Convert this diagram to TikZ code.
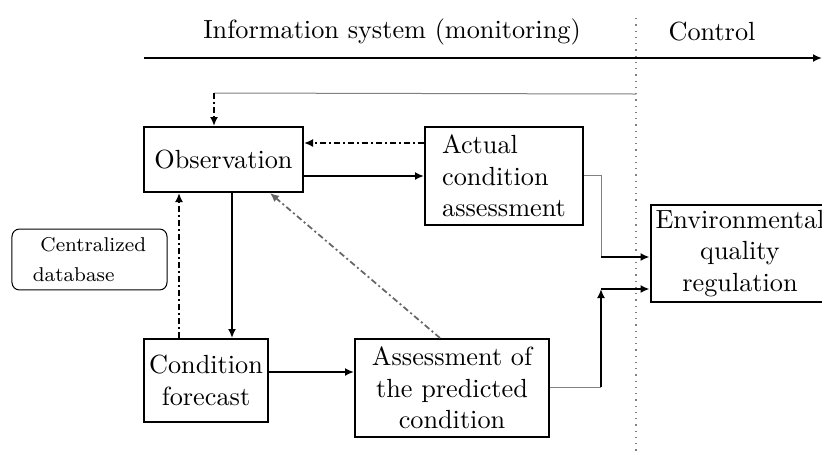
\documentclass[tikz,border=0pt]{standalone}
\usetikzlibrary{arrows.meta,calc}
\begin{document}
\begin{tikzpicture}[x=0.4pt,y=-0.4pt,
    box/.style={draw,line width=0.8pt,inner sep=2pt,font=\fontsize{10.5}{12.6}\selectfont},
    arr/.style={line width=0.7pt,-{Latex[length=3.6pt,width=3.2pt]}},
    darr/.style={arr,dash pattern=on 2.4pt off 1.2pt on 0.8pt off 1.2pt},
    wire/.style={draw=gray,line width=0.4pt}]
\useasboundingbox (0,0) rectangle (822,455);

% headings and time axis
\node[font=\fontsize{10.5}{12.6}\selectfont] (info) at (392,32) {Information system (monitoring)};
\node[font=\fontsize{10.5}{12.6}\selectfont] (ctrl) at (712,32) {Control};
\draw[line width=1pt,-{Latex[length=3.6pt,width=3.2pt]}] (144,58) -- (822,58);
\draw[gray,line width=0.5pt,dotted] (636,18) -- (636,455);

% boxes
\node[box,minimum width=159*0.4pt,minimum height=65*0.4pt] (obs) at (223.5,159.5) {Observation};
\node[box,minimum width=158*0.4pt,minimum height=98*0.4pt,align=left,text depth=-3pt] (act) at (504,176) {Actual\\condition\\assessment};
\node[box,minimum width=124*0.4pt,minimum height=83*0.4pt,align=center] (cond) at (206,380.5) {Condition\\forecast};
\node[box,minimum width=194*0.4pt,minimum height=98*0.4pt,align=center] (assess) at (452,388) {Assessment of\\the predicted\\condition};
\node[box,minimum width=172*0.4pt,minimum height=97*0.4pt,align=center] (env) at (740,253.5) {Environmental\\quality\\regulation};
\node[draw,rounded corners=3pt,line width=0.4pt,minimum width=155*0.4pt,minimum height=53*0.4pt,
      align=left,font=\fontsize{8}{12}\selectfont] (db) at (89.5,259.5) {\hspace{3pt}Centralized\\database};

% feedback from control
\coordinate (fbr) at (636,94);
\coordinate (fb) at ($(obs.north)+(-9.5,-33)$);
\draw[wire] (fbr) -- (fb);
\draw[darr] (fb) -- ($(obs.north)+(-9.5,0)$);

% monitoring loop
\draw[arr] (obs.east |- act.west) -- (act.west);
\draw[darr] ($(act.west)+(0,-33)$) -- ($(obs.east)+(0,-16.5)$);
\draw[arr] ($(obs.south)+(8.5,0)$) -- ($(cond.north)+(26,0)$);
\draw[darr] ($(cond.north)+(-27,0)$) -- ($(obs.south)+(-44.5,0)$);
\draw[arr] ($(cond.east)+(0,-8.5)$) -- ($(assess.west)+(0,-16)$);
\draw[darr,draw=gray!80!black] ($(assess.north)+(-12,0)$) -- ($(obs.south)+(46.5,0)$);

% to regulation
\coordinate (j1) at (601,257);
\coordinate (j2) at (601,387);
\coordinate (j3) at (601,289);
\draw[wire] ($(act.east)+(0,-1)$) -| (j1);
\draw[arr] (j1) -- (env.west |- j1);
\draw[wire] ($(assess.east)+(0,-1)$) -- (j2);
\draw[arr] (j2) -- (j3);
\draw[arr] (j3) -- (env.west |- j3);
\end{tikzpicture}
\end{document}
